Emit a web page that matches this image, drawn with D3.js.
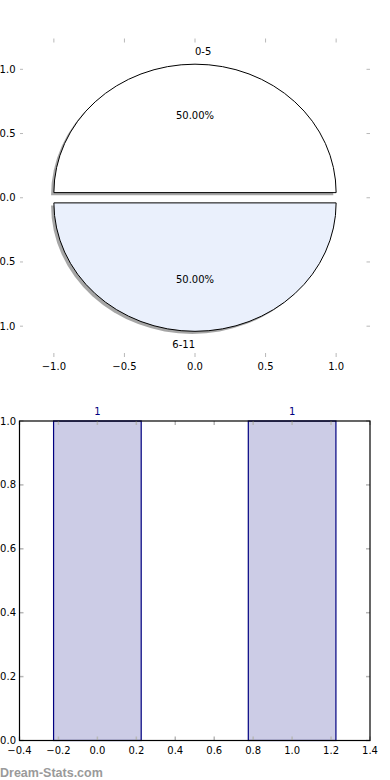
<!DOCTYPE html>
<html>
<head>
<meta charset="utf-8">
<script src="https://cdn.jsdelivr.net/npm/d3@7"></script>
<style>
  html, body { margin: 0; padding: 0; background: #fff; }
  svg { display: block; font-family: "DejaVu Sans", sans-serif; }
</style>
</head>
<body>
<div id="chart"></div>
<script>
// pie data
const pieLabels = ["0-5", "6-11"];
const pieValues = [1, 1];
const pieColors = ["#ffffff", "#eaf0fc"];
const pieTicks = [-1.0, -0.5, 0.0, 0.5, 1.0];

// bar data
const barX = [0, 1];
const barValues = [1, 1];
const barXTicks = [-0.4, -0.2, 0.0, 0.2, 0.4, 0.6, 0.8, 1.0, 1.2, 1.4];
const barYTicks = [0.0, 0.2, 0.4, 0.6, 0.8, 1.0];

const width = 390;
const height = 780;
const tickColor = "#b8b8b8";
const fmt = d => d3.format(".1f")(d).replace("-", "\u2212");

const svg = d3.select("#chart").append("svg")
  .attr("width", width)
  .attr("height", height);

// ---------- top: pie ----------
const px = d3.scaleLinear().domain([-1.24, 1.24]).range([20, 370]);
const py = d3.scaleLinear().domain([-1.24, 1.24]).range([357, 38.5]);
const kx = px(1) - px(0);
const ky = py(0) - py(1);
const explode = 0.04;

const pieG = svg.append("g");

// tick marks (no frame)
pieTicks.forEach(t => {
  pieG.append("line").attr("x1", px(t)).attr("x2", px(t)).attr("y1", 38.5).attr("y2", 42.5)
    .attr("stroke", tickColor);
  pieG.append("line").attr("x1", px(t)).attr("x2", px(t)).attr("y1", 353).attr("y2", 357)
    .attr("stroke", tickColor);
  pieG.append("line").attr("y1", py(t)).attr("y2", py(t)).attr("x1", 20).attr("x2", 23)
    .attr("stroke", tickColor);
  pieG.append("line").attr("y1", py(t)).attr("y2", py(t)).attr("x1", 366.5).attr("x2", 370)
    .attr("stroke", tickColor);

  pieG.append("text").attr("x", px(t)).attr("y", 369.5)
    .attr("text-anchor", "middle").attr("font-size", 10).text(fmt(t));
  pieG.append("text").attr("x", 15.5).attr("y", py(t)).attr("dy", "0.35em")
    .attr("text-anchor", "end").attr("font-size", 10).text(fmt(t));
});

// counter-clockwise from east, like the original
const arcs = d3.pie().sort(null)
  .startAngle(Math.PI / 2)
  .endAngle(Math.PI / 2 - 2 * Math.PI)(pieValues);

const arc = d3.arc().innerRadius(0).outerRadius(1);

arcs.forEach((a, i) => {
  const mid = (a.startAngle + a.endAngle) / 2;
  const dx = Math.sin(mid) * explode;
  const dy = Math.cos(mid) * explode;

  // shadow
  pieG.append("path")
    .attr("d", arc(a))
    .attr("transform", `translate(${px(dx - 0.02)},${py(dy - 0.02)}) scale(${kx},${ky})`)
    .attr("fill", "#000")
    .attr("fill-opacity", 0.35);
});

arcs.forEach((a, i) => {
  const mid = (a.startAngle + a.endAngle) / 2;
  const dx = Math.sin(mid) * explode;
  const dy = Math.cos(mid) * explode;

  pieG.append("path")
    .attr("d", arc(a))
    .attr("transform", `translate(${px(dx)},${py(dy)}) scale(${kx},${ky})`)
    .attr("fill", pieColors[i])
    .attr("stroke", "#000")
    .attr("stroke-width", 1)
    .attr("vector-effect", "non-scaling-stroke");

  // category label at 1.1 r
  const ly = dy + Math.cos(mid) * 1.1;
  pieG.append("text")
    .attr("x", px(0)).attr("y", py(ly)).attr("dy", "0.35em")
    .attr("text-anchor", i === 0 ? "start" : "end")
    .attr("font-size", 10)
    .text(pieLabels[i]);

  // percentage at 0.6 r
  const total = d3.sum(pieValues);
  pieG.append("text")
    .attr("x", px(dx + Math.sin(mid) * 0.6)).attr("y", py(dy + Math.cos(mid) * 0.6)).attr("dy", "0.35em")
    .attr("text-anchor", "middle")
    .attr("font-size", 10)
    .text(d3.format(".2f")(pieValues[i] / total * 100) + "%");
});

// ---------- bottom: bars ----------
const bx = d3.scaleLinear().domain([-0.4, 1.4]).range([19.5, 370]);
const by = d3.scaleLinear().domain([0, 1]).range([740.5, 421]);
const barW = 0.45;

const barG = svg.append("g");

barG.selectAll("rect.bar")
  .data(barX)
  .enter()
  .append("rect")
  .attr("class", "bar")
  .attr("x", d => bx(d - barW / 2))
  .attr("width", d => bx(d + barW / 2) - bx(d - barW / 2))
  .attr("y", (d, i) => by(barValues[i]))
  .attr("height", (d, i) => by(0) - by(barValues[i]))
  .attr("fill", "rgba(0,0,128,0.2)")
  .attr("stroke", "#000080")
  .attr("stroke-width", 1.2);

barG.selectAll("text.val")
  .data(barX)
  .enter()
  .append("text")
  .attr("class", "val")
  .attr("x", d => bx(d))
  .attr("y", (d, i) => by(barValues[i]) - 6)
  .attr("text-anchor", "middle")
  .attr("font-size", 10)
  .attr("fill", "#000080")
  .text((d, i) => barValues[i]);

barXTicks.forEach(t => {
  barG.append("line").attr("x1", bx(t)).attr("x2", bx(t)).attr("y1", 421).attr("y2", 425)
    .attr("stroke", tickColor).attr("stroke-width", 1.5);
  barG.append("line").attr("x1", bx(t)).attr("x2", bx(t)).attr("y1", 736.5).attr("y2", 740.5)
    .attr("stroke", tickColor).attr("stroke-width", 1.5);
  barG.append("text").attr("x", bx(t)).attr("y", 753.5)
    .attr("text-anchor", "middle").attr("font-size", 10).text(fmt(t));
});

barYTicks.forEach(t => {
  barG.append("line").attr("y1", by(t)).attr("y2", by(t)).attr("x1", 19.5).attr("x2", 23.5)
    .attr("stroke", tickColor).attr("stroke-width", 1.5);
  barG.append("line").attr("y1", by(t)).attr("y2", by(t)).attr("x1", 366).attr("x2", 370)
    .attr("stroke", tickColor).attr("stroke-width", 1.5);
  barG.append("text").attr("x", 16).attr("y", by(t)).attr("dy", "0.35em")
    .attr("text-anchor", "end").attr("font-size", 10).text(fmt(t));
});

// frame
barG.append("rect")
  .attr("x", 19.5).attr("y", 421)
  .attr("width", 370 - 19.5).attr("height", 740.5 - 421)
  .attr("fill", "none")
  .attr("stroke", "#000")
  .attr("stroke-width", 1.2);

// watermark
svg.append("text")
  .attr("x", 0).attr("y", 776.5)
  .attr("font-family", "'Liberation Sans', Arial, sans-serif")
  .attr("font-weight", "bold")
  .attr("font-size", 12.5)
  .attr("fill", "#9a9a9a")
  .text("Dream-Stats.com");
</script>
</body>
</html>
